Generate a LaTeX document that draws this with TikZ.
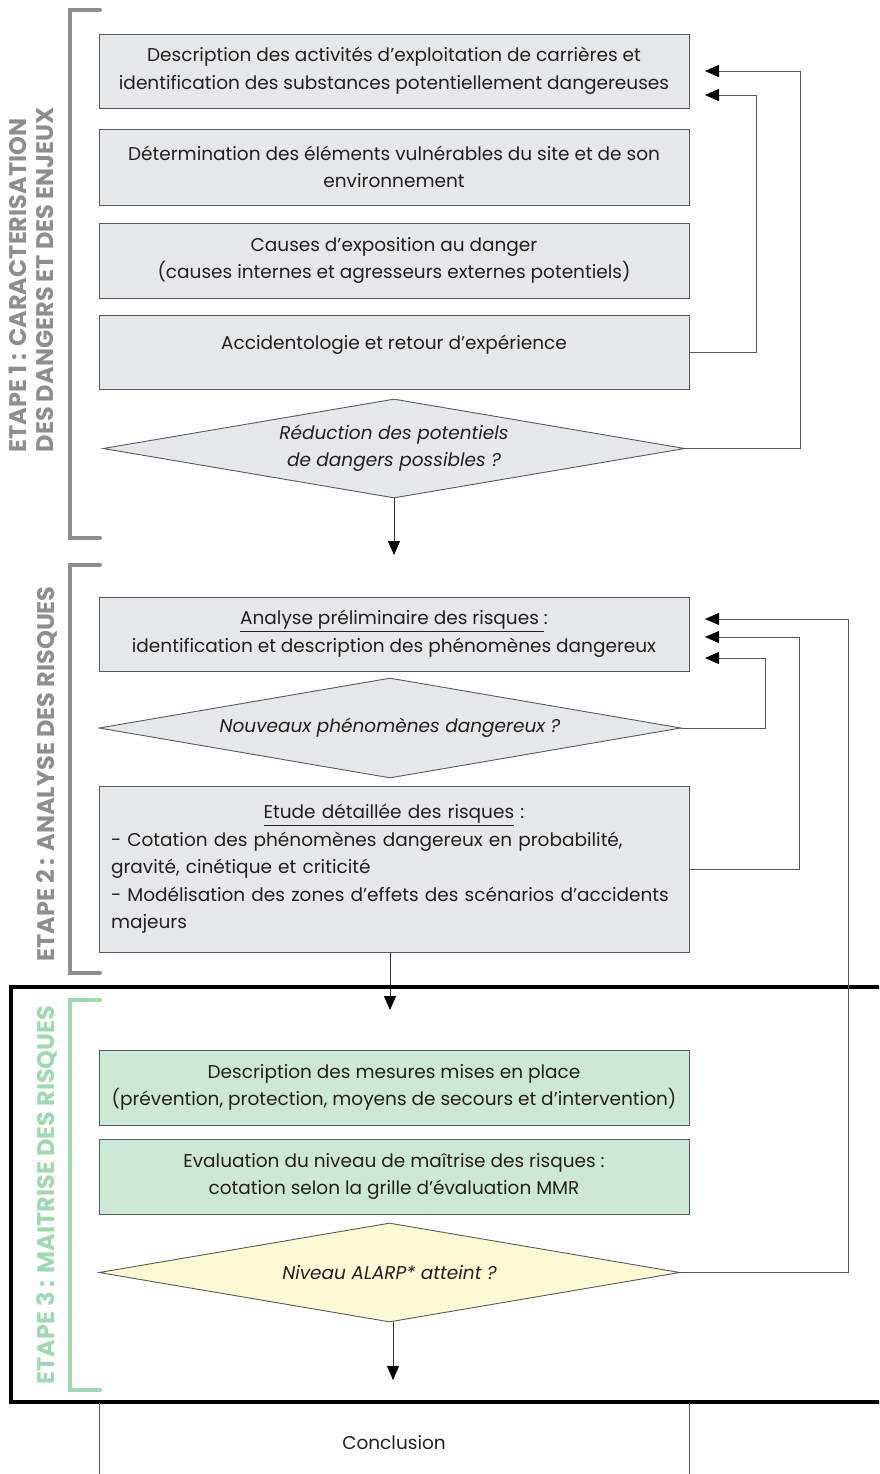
\documentclass[tikz,border=0pt]{standalone}
\usepackage{fontspec}
\setmainfont{Poppins}
\usetikzlibrary{shapes.geometric,arrows.meta,calc}
\definecolor{boxgray}{HTML}{E6E7E8}
\definecolor{lineg}{HTML}{58595B}
\definecolor{txt}{HTML}{231F20}
\definecolor{labgray}{HTML}{8C8E90}
\definecolor{labgreen}{HTML}{A0D8B6}
\definecolor{boxgreen}{HTML}{CDE7D6}
\definecolor{boxyellow}{HTML}{FEF9D4}
\begin{document}
\begin{tikzpicture}[x=1pt,y=-1pt,
  every node/.style={text=txt, font=\fontsize{18.5}{27.5}\selectfont},
  box/.style={draw=lineg, line width=0.9pt, fill=boxgray, minimum width=590, inner sep=0, align=center},
  dec/.style={diamond, draw=lineg, line width=0.9pt, fill=boxgray, inner sep=0, aspect=5.8, align=center,
     font=\itshape\fontsize{18.5}{27.5}\selectfont},
  lab/.style={rotate=90, align=left, inner sep=0, font=\bfseries\fontsize{24}{27}\selectfont},
  brack/.style={line width=4pt, line cap=round},
  fb/.style={draw=lineg, line width=0.8pt, -{Triangle[length=14pt,width=12pt,color=black]}},
  down/.style={draw=black!80, line width=0.8pt, -{Triangle[length=14pt,width=12pt,color=black]}}
]
\useasboundingbox (0,0) rectangle (879,1474);
\clip (0,0) rectangle (879,1474);

% ---------- brackets and stage labels
\draw[brack, labgray] (100,10) -- (70,10) -- (70,538) -- (100,538);
\draw[brack, labgray] (100,565) -- (70,565) -- (70,973) -- (100,973);
\draw[brack, labgreen] (100,1000) -- (70,1000) -- (70,1390) -- (100,1390);
\node[lab, text=labgray] (l1) at (31,280) {ETAPE 1 : CARACTERISATION\\DES DANGERS ET DES ENJEUX};
\node[lab, text=labgray] (l2) at (47,774) {ETAPE 2 : ANALYSE DES RISQUES};
\node[lab, text=labgreen] (l3) at (47,1195) {ETAPE 3 : MAITRISE DES RISQUES};

% ---------- stage 1
\node[box, minimum height=74] (b1) at (394,71) {Description des activités d'exploitation de carrières et\\identification des substances potentiellement dangereuses};
\node[box, minimum height=76] (b2) at (394,167) {Détermination des éléments vulnérables du site et de son\\environnement};
\node[box, minimum height=75] (b3) at (394,260.5) {Causes d’exposition au danger\\(causes internes et agresseurs externes potentiels)};
\node[box, minimum height=74] (b4) at (394,352) {};
\node[inner sep=0] (t4) at (394,345) {Accidentologie et retour d’expérience};
\node[dec, minimum width=582, minimum height=99] (d1) at (394,448.5) {Réduction des potentiels\\de dangers possibles ?};
\coordinate (e1) at (394,555);
\draw[down] (d1.south) -- (e1);
\coordinate (t1a) at (705,71);
\coordinate (t1b) at (705,95);
\draw[fb] (b4.east) -- ++(67,0) |- (t1b);
\draw[fb] (d1.east) -- ++(115,0) |- (t1a);

% ---------- stage 2
\node[box, minimum height=74] (b5) at (394,634) {\underline{Analyse préliminaire des risques\ }:\\identification et description des phénomènes dangereux};
\node[dec, minimum width=582, minimum height=100] (d2) at (390,728) {Nouveaux phénomènes dangereux ?};
\node[box, minimum height=166, text width=566, align=left] (b6) at (394,869)
  {\makebox[566pt]{\underline{Etude détaillée des risques}\ :}\\
   \mbox{- Cotation des phénomènes dangereux en probabilité,}\\
   \mbox{gravité, cinétique et criticité}\\
   \mbox{- Modélisation des zones d’effets des scénarios d’accidents}\\
   \mbox{majeurs}};
\coordinate (e2) at (390,1010);
\draw[down] (b6.south -| e2) -- (e2);
\coordinate (t2a) at (705,619);
\coordinate (t2b) at (705,637);
\coordinate (t2c) at (705,658);
\draw[fb] (d2.east) -- ++(84,0) |- (t2c);
\draw[fb] (b6.east) -- ++(110,0) |- (t2b);

% ---------- stage 3 frame
\draw[line width=3.5pt] (11,987) rectangle (895,1402);
\node[box, fill=boxgreen, minimum height=75] (b7) at (394,1087.5) {Description des mesures mises en place\\(prévention, protection, moyens de secours et d’intervention)};
\node[box, fill=boxgreen, minimum height=75] (b8) at (394,1176.5) {Evaluation du niveau de maîtrise des risques :\\cotation selon la grille d’évaluation MMR};
\node[dec, fill=boxyellow, minimum width=581, minimum height=99] (d3) at (389.5,1272.5) {Niveau ALARP* atteint ?};
\coordinate (e3) at (393,1380);
\draw[down] (d3.south -| e3) -- (e3);
\draw[fb] (d3.east) -- ++(168,0) |- (t2a);

% ---------- conclusion
\draw[draw=lineg, line width=0.9pt] (99,1403) -- (99,1480) (689,1403) -- (689,1480);
\node[inner sep=0] (c) at (394,1443) {Conclusion};
\end{tikzpicture}
\end{document}
